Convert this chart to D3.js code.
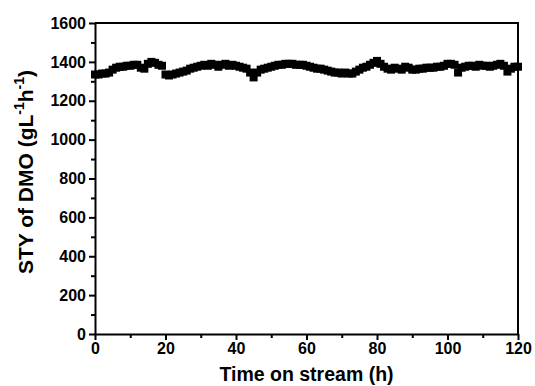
<!DOCTYPE html>
<html>
<head>
<meta charset="utf-8">
<script src="https://cdn.jsdelivr.net/npm/d3@7"></script>
<style>
  body { margin: 0; background: #fff; }
  text { font-family: "Liberation Sans", Arial, sans-serif; font-weight: bold; fill: #000; }
</style>
</head>
<body>
<div class="canvas"></div>
<script>
// time on stream (h), one point every hour
const hours = d3.range(0, 121);
// STY values
const sty = [
  1335, 1335, 1340, 1340, 1345, 1360, 1370, 1375, 1375, 1380,
  1380, 1385, 1385, 1370, 1365, 1390, 1400, 1395, 1385, 1380,
  1335, 1330, 1335, 1340, 1345, 1350, 1355, 1365, 1370, 1375,
  1380, 1385, 1380, 1390, 1385, 1375, 1385, 1390, 1380, 1385,
  1380, 1375, 1370, 1365, 1345, 1320, 1345, 1360, 1365, 1370,
  1375, 1380, 1385, 1385, 1390, 1390, 1390, 1385, 1385, 1385,
  1380, 1375, 1370, 1365, 1365, 1360, 1355, 1350, 1345, 1345,
  1340, 1345, 1340, 1340, 1350, 1360, 1370, 1375, 1385, 1395,
  1405, 1390, 1375, 1365, 1360, 1370, 1365, 1360, 1375, 1370,
  1360, 1360, 1365, 1365, 1370, 1370, 1370, 1375, 1375, 1380,
  1390, 1390, 1385, 1345, 1370, 1375, 1380, 1380, 1375, 1385,
  1380, 1380, 1375, 1380, 1385, 1390, 1380, 1350, 1365, 1375,
  1375
];
const xTicks = [0, 20, 40, 60, 80, 100, 120];
const yTicks = [0, 200, 400, 600, 800, 1000, 1200, 1400, 1600];

const W = 535, H = 386;
const m = { left: 95, right: 17, top: 23, bottom: 52 };

const svg = d3.select('.canvas').append('svg')
    .attr('width', W)
    .attr('height', H);

const x = d3.scaleLinear().domain([0, 120]).range([m.left, W - m.right]);
const y = d3.scaleLinear().domain([0, 1600]).range([H - m.bottom, m.top]);

// minor ticks
svg.append('g')
    .attr('transform', `translate(0, ${H - m.bottom})`)
    .call(d3.axisBottom(x).tickValues(d3.range(10, 120, 20)).tickSize(4).tickFormat(''))
    .call(g => g.select('.domain').remove())
    .selectAll('line').attr('stroke-width', 2);
svg.append('g')
    .attr('transform', `translate(${m.left}, 0)`)
    .call(d3.axisLeft(y).tickValues(d3.range(100, 1600, 200)).tickSize(4).tickFormat(''))
    .call(g => g.select('.domain').remove())
    .selectAll('line').attr('stroke-width', 2);

// major axes
const xAxis = svg.append('g')
    .attr('transform', `translate(0, ${H - m.bottom})`)
    .call(d3.axisBottom(x).tickValues(xTicks).tickSize(6).tickSizeOuter(0).tickPadding(3).tickFormat(d3.format('d')));
const yAxis = svg.append('g')
    .attr('transform', `translate(${m.left}, 0)`)
    .call(d3.axisLeft(y).tickValues(yTicks).tickSize(6).tickSizeOuter(0).tickPadding(3).tickFormat(d3.format('d')));

[xAxis, yAxis].forEach(a => {
    a.select('.domain').attr('stroke-width', 2);
    a.selectAll('line').attr('stroke-width', 2);
    a.selectAll('text').style('font-size', '16px');
});

// top and right frame
svg.append('path')
    .attr('d', `M${m.left},${m.top}H${W - m.right}V${H - m.bottom}`)
    .attr('fill', 'none')
    .attr('stroke', '#000')
    .attr('stroke-width', 2);

// square markers
const s = 8;
svg.append('g').selectAll('rect')
    .data(hours.map((h, i) => ({ h, v: sty[i] })))
    .enter()
    .append('rect')
    .attr('x', d => x(d.h) - s / 2)
    .attr('y', d => y(d.v) - s / 2)
    .attr('width', s)
    .attr('height', s)
    .attr('fill', '#000');

// axis titles
svg.append('text')
    .attr('x', (m.left + W - m.right) / 2)
    .attr('y', 381)
    .attr('text-anchor', 'middle')
    .style('font-size', '19.5px')
    .text('Time on stream (h)');

const yt = svg.append('text')
    .attr('transform', `translate(33, 172) rotate(-90)`)
    .attr('text-anchor', 'middle')
    .style('font-size', '21px');
yt.append('tspan').text('STY of DMO (gL');
yt.append('tspan').attr('dy', -9).style('font-size', '14px').text('-1');
yt.append('tspan').attr('dy', 9).text('h');
yt.append('tspan').attr('dy', -9).style('font-size', '14px').text('-1');
yt.append('tspan').attr('dy', 9).text(')');
</script>
</body>
</html>
